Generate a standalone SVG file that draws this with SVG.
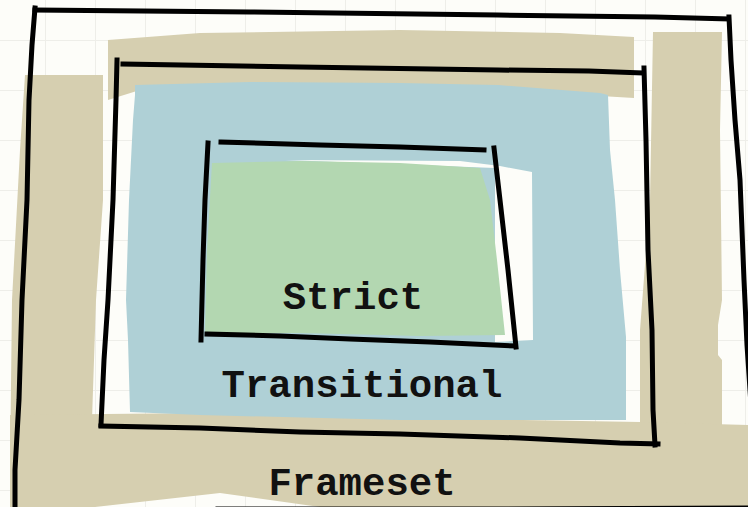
<svg xmlns="http://www.w3.org/2000/svg" width="748" height="507" viewBox="0 0 748 507">
  <defs>
    <pattern id="grid" x="45" y="40" width="50" height="50" patternUnits="userSpaceOnUse">
      <path d="M0 0V50M0 0H50" fill="none" stroke="#eeeee9" stroke-width="2"/>
    </pattern>
  </defs>
  <style>
    .ink { fill: none; stroke: #000; stroke-width: 5; stroke-linejoin: miter; stroke-linecap: square; }
    .tan { fill: #d6cfb0; }
    .blue { fill: #afd0d6; }
    .green { fill: #b3d7b1; }
    .paper { fill: #fdfdf9; }
    .label { font-family: "Liberation Mono", "Courier New", monospace; font-weight: bold; font-size: 39px; fill: #111; text-anchor: middle; }
  </style>

  <!-- sheet with faint grid -->
  <rect width="748" height="507" class="paper"/>
  <rect width="748" height="507" fill="url(#grid)"/>

  <!-- outermost level -->
  <g id="frameset">
    <!-- hand-painted tan bands -->
    <polygon class="tan" points="25,75 103,75 103,200 96,300 92,420 92,507 12,507 10,470 12,300 20,150"/>
    <polygon class="tan" points="108,40 200,33 400,30 560,33 634,37 634,98 500,90 300,86 140,90 108,100"/>
    <polygon class="tan" points="653,32 722,32 720,130 722,300 718,325 718,355 722,360 722,425 640,425 640,330 650,200"/>
    <polygon class="tan" points="10,415 200,413 400,418 640,422 748,425 748,507 320,507 220,493 95,507 10,507"/>
    <!-- outer frame -->
    <polyline class="ink" points="35,10 250,12 498,15 655,17 728,19"/>
    <polyline class="ink" points="35,8 32,45 29,100 27,200 22,300 19,400 15,470 15,510"/>
    <polyline class="ink" points="729,17 731,60 735,120 740,180 744,280 747,345 752,420"/>
    <polyline class="ink" points="218,509 480,509 748,508"/>
    <text class="label" x="362" y="495">Frameset</text>
  </g>

  <!-- middle level -->
  <g id="transitional">
    <polygon class="blue" points="135,95 135,85 250,82 400,83 498,85 600,93 608,95 610,150 615,200 620,270 626,337 626,420 400,420 200,415 130,412 128,340 126,300 129,200 133,120"/>
    <polyline class="ink" points="123,64 300,67 498,70 589,71 641,73"/>
    <polyline class="ink" points="117,60 116,100 113,200 108,300 104,360 101,425"/>
    <polyline class="ink" points="644,68 646,140 648,250 652,330 653,410 655,445"/>
    <polyline class="ink" points="101,426 200,428 300,432 400,434 520,438 560,440 620,443 658,444"/>
    <text class="label" x="362" y="397">Transitional</text>
  </g>

  <!-- innermost level -->
  <g id="strict">
    <polygon class="paper" points="285,160 460,161 500,166 532,172 533,340 495,342 495,168"/>
    <polygon class="green" points="212,163 300,161 400,163 480,168 490,200 497,260 505,335 420,336 300,333 205,333 207,250"/>
    <polyline class="ink" points="208,143 205,200 203,260 201,340"/>
    <polyline class="ink" points="221,142 320,145 400,147 484,150"/>
    <polyline class="ink" points="494,148 500,200 508,270 516,347"/>
    <polyline class="ink" points="207,334 280,336 350,339 430,342 515,346"/>
    <text class="label" x="353" y="309">Strict</text>
  </g>
</svg>
